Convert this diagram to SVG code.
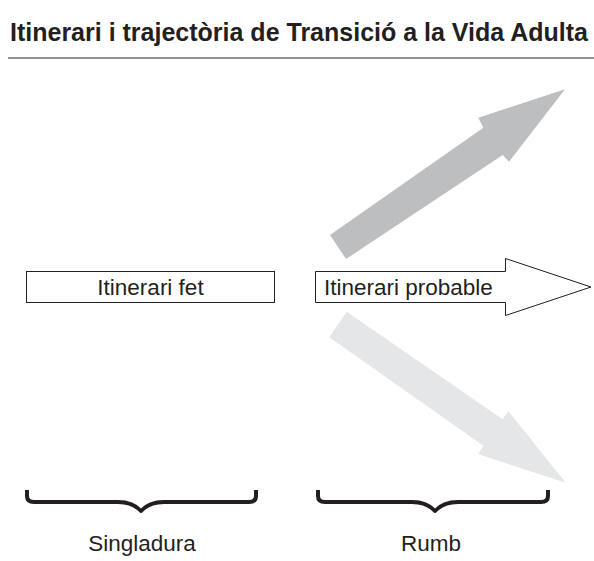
<svg xmlns="http://www.w3.org/2000/svg" width="594" height="561" viewBox="0 0 594 561">
<style>
  text { font-family: "Liberation Sans", Arial, Helvetica, sans-serif; fill: #231f20; }
  .title { font-size: 25px; font-weight: bold; }
  .lbl { font-size: 22.5px; }
  .box { fill: #ffffff; stroke: #231f20; stroke-width: 1; }
  .brace { fill: none; stroke: #231f20; stroke-width: 4; stroke-linejoin: round; }
</style>
<rect width="594" height="561" fill="#ffffff"/>
<g id="title">
  <text class="title" x="10" y="41">Itinerari i trajectòria de Transició a la Vida Adulta</text>
  <line x1="8" y1="58" x2="594" y2="58" stroke="#6d6e70" stroke-width="1.5"/>
</g>
<g id="connectors">
  <polygon id="arrow-up" points="330,235 483.3,127.7 478.3,117.7 565,89.3 509,161.7 502.7,155 346,259" fill="#bdbebf"/>
  <polygon id="arrow-down" points="346.7,311.7 502.7,419.3 508.3,411 565.7,482.7 478.3,454.3 483.3,445.7 329.3,337.3" fill="#e5e6e7"/>
</g>
<g id="itinerari-fet">
  <rect class="box" x="26.5" y="271.5" width="248" height="31"/>
  <text class="lbl" x="150.5" y="295" text-anchor="middle">Itinerari fet</text>
</g>
<g id="itinerari-probable">
  <polygon class="box" points="315.5,271.5 505.5,271.5 505.5,258.5 591,287 505.5,315.5 505.5,302.5 315.5,302.5"/>
  <text class="lbl" x="324" y="295">Itinerari probable</text>
</g>
<g id="singladura">
  <path class="brace" d="M27,490 V496 Q27,502 34,502 H118 Q133,502 141,511 Q149,502 164,502 H249 Q256,502 256,496 V490"/>
  <text class="lbl" x="142" y="551" text-anchor="middle">Singladura</text>
</g>
<g id="rumb">
  <path class="brace" d="M318,490 V496 Q318,502 325,502 H412 Q427,502 435,511 Q443,502 458,502 H541 Q548,502 548,496 V490"/>
  <text class="lbl" x="431" y="551" text-anchor="middle">Rumb</text>
</g>
</svg>
